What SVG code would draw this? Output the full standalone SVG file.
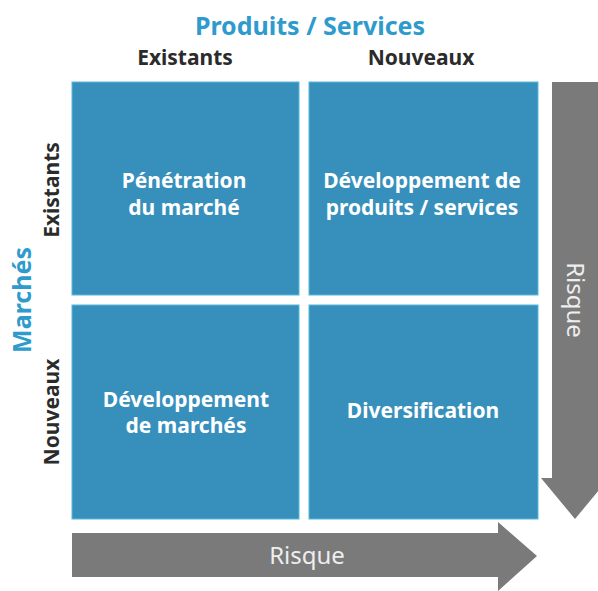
<svg xmlns="http://www.w3.org/2000/svg" width="598" height="591" viewBox="0 0 598 591">
<style>
.box{fill:#3790bb;stroke:#5cb8de;stroke-width:1}
.bt{font-family:"Noto Sans",sans-serif;font-weight:bold;font-size:21px;fill:#ffffff;text-anchor:middle}
.hd{font-family:"Noto Sans",sans-serif;font-weight:bold;font-size:21px;fill:#2b2b2b;text-anchor:middle}
.ttl{font-family:"Noto Sans",sans-serif;font-weight:bold;font-size:25px;fill:#2f9bcc;text-anchor:middle}
.arr{fill:#7a7a7a}
.rt{font-family:"Noto Sans",sans-serif;font-size:24px;fill:#eeeeee;text-anchor:middle}
</style>
<rect width="598" height="591" fill="#ffffff"/>
<text class="ttl" x="310" y="35">Produits / Services</text>
<text class="hd" x="185" y="65">Existants</text>
<text class="hd" x="421" y="65">Nouveaux</text>
<text class="ttl" transform="translate(31,300) rotate(-90)">Marchés</text>
<text class="hd" transform="translate(59,190) rotate(-90)">Existants</text>
<text class="hd" transform="translate(59,412) rotate(-90)">Nouveaux</text>
<g id="connectors">
<g id="risque-v">
<polygon class="arr" points="552,82 598,82 598,478 609,478 575,519 541,478 552,478"/>
<text class="rt" transform="translate(567,300) rotate(90)">Risque</text>
</g>
<g id="risque-h">
<polygon class="arr" points="72,533 498,533 498,522 537,556 498,591 498,577 72,577"/>
<text class="rt" x="307" y="564">Risque</text>
</g>
</g>
<g id="penetration">
<rect class="box" x="72" y="82" width="227" height="213"/>
<text class="bt" x="184" y="188">Pénétration</text>
<text class="bt" x="184" y="215">du marché</text>
</g>
<g id="dev-produits">
<rect class="box" x="309" y="82" width="229" height="213"/>
<text class="bt" x="422" y="188">Développement de</text>
<text class="bt" x="422" y="215">produits / services</text>
</g>
<g id="dev-marches">
<rect class="box" x="72" y="305" width="227" height="214"/>
<text class="bt" x="186" y="407">Développement</text>
<text class="bt" x="186" y="433">de marchés</text>
</g>
<g id="diversification">
<rect class="box" x="309" y="305" width="229" height="214"/>
<text class="bt" x="423" y="418">Diversification</text>
</g>
</svg>
